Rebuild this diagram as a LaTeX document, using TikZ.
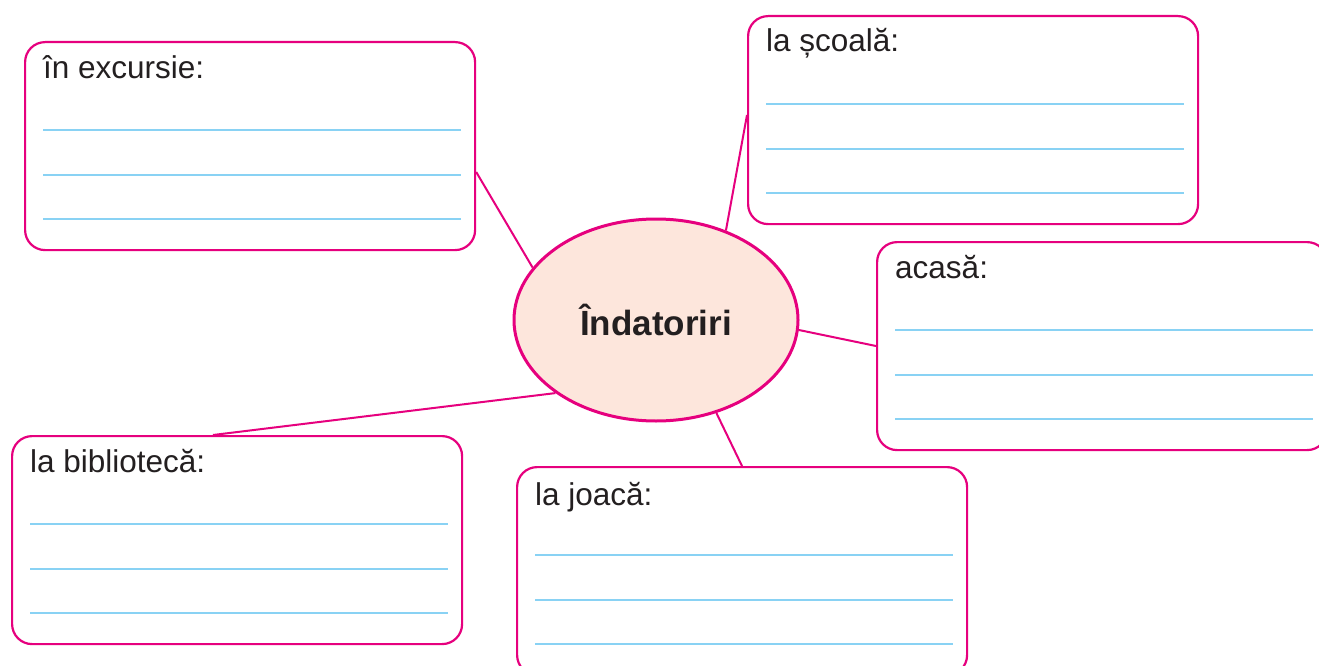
\documentclass[tikz,border=0pt]{standalone}
\usepackage{fontspec}
\setmainfont{Liberation Sans}
\usetikzlibrary{shapes.geometric,calc}
\definecolor{mag}{RGB}{230,0,126}
\definecolor{peach}{RGB}{253,230,220}
\definecolor{sky}{RGB}{137,210,244}
\definecolor{ink}{RGB}{35,31,32}
\tikzset{
  box/.style={draw=mag, line width=2.2pt, rounded corners=20pt, fill=white,
    minimum width=450pt, minimum height=208pt, inner sep=0pt, anchor=north west},
  lbl/.style={anchor=base west, inner sep=0pt, text=ink, font=\fontsize{31.5}{38}\selectfont},
  wline/.style={draw=sky, line width=2pt},
  conn/.style={draw=mag, line width=2pt},
  hub/.style={ellipse, draw=mag, line width=3pt, fill=peach, minimum width=284pt,
    minimum height=202pt, inner sep=0pt, text=ink, font=\bfseries\fontsize{35}{42}\selectfont}
}
\newcommand{\writelines}[1]{%
  \foreach \dy in {89,134,178} {
    \draw[wline] ($(#1.north west)+(19,\dy)$) -- ($(#1.north east)+(-15,\dy)$);
  }%
}
\begin{document}
\begin{tikzpicture}[x=1pt,y=-1pt]
\useasboundingbox (0,0) rectangle (1319,666);
\clip (0,0) rectangle (1319,666);
\fill[white] (0,0) rectangle (1319,666);

\node[hub] (ell) at (656,320) {Îndatoriri};

\node[box] (exc) at (24,41) {};
\node[box] (sco) at (747,15) {};
\node[box] (aca) at (876,241) {};
\node[box] (bib) at (11,435) {};
\node[box] (joa) at (516,466) {};

\node[lbl] (excL) at ($(exc.north west)+(19,38)$) {în excursie:};
\node[lbl] (scoL) at ($(sco.north west)+(19,37)$) {la școală:};
\node[lbl] (acaL) at ($(aca.north west)+(19,37)$) {acasă:};
\node[lbl] (bibL) at ($(bib.north west)+(19,37)$) {la bibliotecă:};
\node[lbl] (joaL) at ($(joa.north west)+(19,39)$) {la joacă:};

\writelines{exc}
\writelines{sco}
\writelines{aca}
\writelines{bib}
\writelines{joa}

\coordinate (excC) at ($(exc.north east)+(0,131)$);
\coordinate (scoC) at ($(sco.north west)+(0,100)$);
\coordinate (acaC) at ($(aca.north west)+(0,105)$);
\coordinate (bibC) at ($(bib.north west)+(202,0)$);
\coordinate (joaC) at ($(joa.north west)+(226,0)$);

\draw[conn] (excC) -- (ell.157);
\draw[conn] (scoC) -- (ell.52);
\draw[conn] (acaC) -- (ell.-4);
\draw[conn] (bibC) -- (ell.216);
\draw[conn] (joaC) -- (ell.-57);
\end{tikzpicture}
\end{document}
